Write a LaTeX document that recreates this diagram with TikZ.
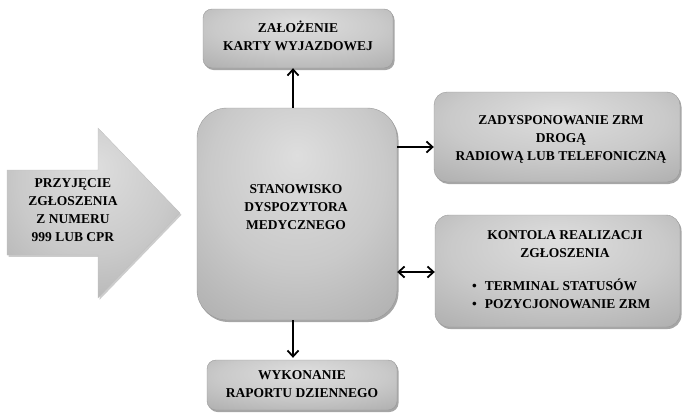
\documentclass[tikz,border=0pt]{standalone}
\usepackage{fontspec}
\setmainfont{Liberation Serif}
\usetikzlibrary{arrows.meta,shadows,calc}
\pgfdeclareradialshading{boxshade}{\pgfpoint{0bp}{14bp}}{color(0bp)=(black!13); color(22bp)=(black!21); color(48bp)=(black!36); color(70bp)=(black!50)}
\begin{document}
\begin{tikzpicture}[x=1pt,y=-1pt,
  box/.style={rectangle, shading=boxshade, draw=black!40, line width=0.4pt,
    drop shadow={shadow xshift=1.5pt, shadow yshift=-2pt, opacity=0.35, fill=black},
    inner sep=0pt},
  txt/.style={font=\rmfamily\fontsize{13.5}{18}\selectfont\bfseries, align=center, inner sep=0pt, text=black},
  arr/.style={line width=1.8pt, -{Straight Barb[length=6pt,width=11pt]}},
  darr/.style={line width=1.8pt, {Straight Barb[length=6pt,width=11pt]}-{Straight Barb[length=6pt,width=11pt]}}
]
\useasboundingbox (0,0) rectangle (684,415);

% left big arrow
\path[shading=boxshade, draw=black!25, line width=0.3pt,
  drop shadow={shadow xshift=1.5pt, shadow yshift=-1.8pt, opacity=0.2, fill=black}]
  (7,170) -- (98,170) -- (98,128) -- (180,213) -- (98,298) -- (98,255) -- (7,255) -- cycle;
\node[txt] (intxt) at (73,210) {PRZYJĘCIE\\ZGŁOSZENIA\\Z NUMERU\\999 LUB CPR};

% boxes
\node[box, minimum width=190pt, minimum height=59pt, rounded corners=9pt] (top) at (298,38.5) {};
\node[txt] (toptxt) at (298,36) {ZAŁOŻENIE\\KARTY WYJAZDOWEJ};

\node[box, minimum width=200pt, minimum height=212pt, rounded corners=30pt] (central) at (297,214) {};
\node[txt] (centtxt) at (296,207) {STANOWISKO\\DYSPOZYTORA\\MEDYCZNEGO};

\node[box, minimum width=190pt, minimum height=50pt, rounded corners=9pt] (bottom) at (302,385) {};
\node[txt] (bottxt) at (302,384) {WYKONANIE\\RAPORTU DZIENNEGO};

\node[box, minimum width=246pt, minimum height=90pt, rounded corners=13pt] (right1) at (557,137) {};
\node[txt] (r1txt) at (561,139) {ZADYSPONOWANIE ZRM\\DROGĄ\\RADIOWĄ LUB TELEFONICZNĄ};

\node[box, minimum width=245pt, minimum height=112pt, rounded corners=14pt] (right2) at (557.5,271) {};
\node[txt] (r2txt) at (565,244) {KONTOLA REALIZACJI\\ZGŁOSZENIA};
\node[txt, anchor=west, align=left] (r2list) at (472,294)
  {•\hspace{8pt}TERMINAL STATUSÓW\\•\hspace{8pt}POZYCJONOWANIE ZRM};

% connectors
\coordinate (ctop) at ([xshift=-4pt]central.north);
\coordinate (cbot) at ([xshift=-4pt]central.south);
\draw[arr] (ctop) -- (ctop |- top.south);
\draw[arr] (cbot) -- ([yshift=2pt]cbot |- bottom.north);
\coordinate (r1in) at ([yshift=-10pt]right1.west);
\draw[arr] (r1in -| central.east) -- (r1in);
\coordinate (r2in) at ([yshift=-1pt]right2.west);
\draw[darr] (r2in -| central.east) -- (r2in);
\end{tikzpicture}
\end{document}
